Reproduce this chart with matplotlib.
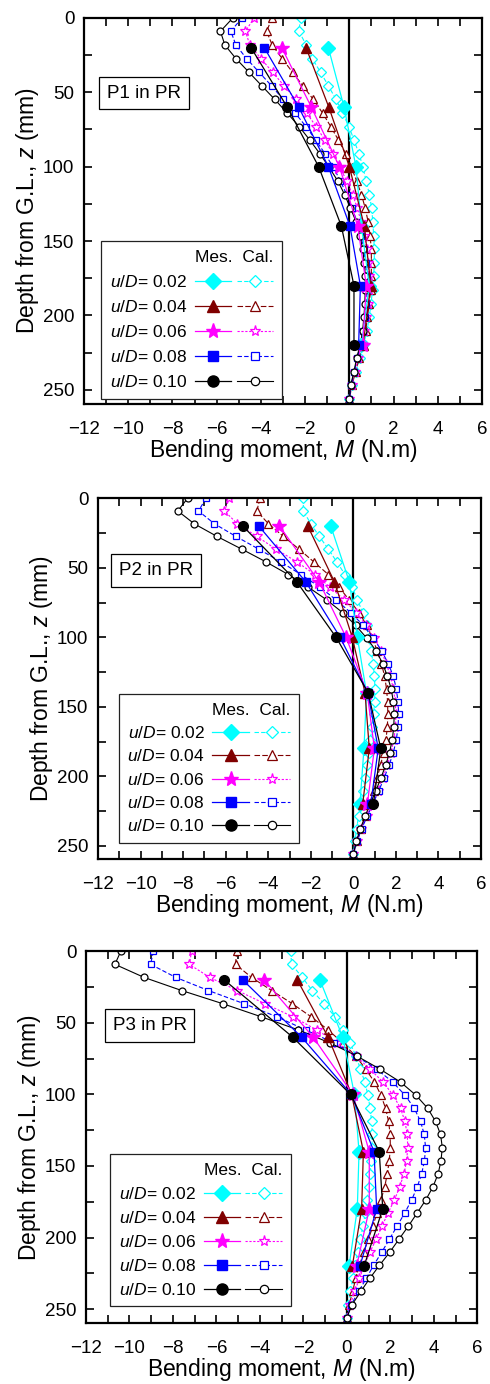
import matplotlib
matplotlib.use("Agg")
import matplotlib.pyplot as plt
from matplotlib.lines import Line2D
from matplotlib.legend_handler import HandlerTuple
from matplotlib.ticker import MultipleLocator

plt.rcParams['font.family'] = ['Liberation Sans', 'DejaVu Sans']
plt.rcParams['mathtext.fontset'] = 'custom'
plt.rcParams['mathtext.rm'] = 'Liberation Sans'
plt.rcParams['mathtext.it'] = 'Liberation Sans:italic'

# ---- data -------------------------------------------------------------
ratios = ['0.02', '0.04', '0.06', '0.08', '0.10']
pile_names = ['P1 in PR', 'P2 in PR', 'P3 in PR']

# gauge depths (measured) and node depths (calculated), mm
mes_depth = [20, 60, 100, 140, 180, 220]
cal_depth = [0, 9.1, 18.3, 27.4, 36.6, 45.7, 54.9, 64.0, 73.1, 82.3, 91.4,
             100.6, 109.7, 118.9, 128.0, 137.1, 146.3, 155.4, 164.6, 173.7,
             182.9, 192.0, 201.1, 210.3, 219.4, 228.6, 237.7, 246.9, 256.0]

# P1 - measured bending moment (N.m)
p1_mes_02 = [-0.95, -0.24, 0.30, 0.55, 0.90, 0.55]
p1_mes_04 = [-1.96, -0.93, 0.00, 0.68, 0.97, 0.62]
p1_mes_06 = [-3.06, -1.72, -0.45, 0.38, 0.77, 0.60]
p1_mes_08 = [-3.85, -2.29, -0.95, 0.03, 0.50, 0.42]
p1_mes_10 = [-4.45, -2.81, -1.39, -0.36, 0.21, 0.21]
# P1 - calculated
p1_cal_02 = [-2.20, -2.28, -1.95, -1.68, -1.30, -0.95, -0.60, -0.32, -0.01, 0.21,
             0.44, 0.62, 0.76, 0.91, 1.01, 1.06, 1.10, 1.13, 1.13, 1.10, 1.05,
             0.98, 0.90, 0.80, 0.65, 0.48, 0.30, 0.12, 0.00]
p1_cal_04 = [-3.49, -3.74, -3.49, -3.04, -2.57, -2.10, -1.63, -1.21, -0.84, -0.49,
             -0.16, 0.10, 0.33, 0.55, 0.72, 0.85, 0.94, 0.99, 1.00, 0.99, 0.96,
             0.90, 0.82, 0.74, 0.60, 0.45, 0.28, 0.12, 0.00]
p1_cal_06 = [-4.30, -4.70, -4.50, -4.00, -3.47, -2.95, -2.43, -1.93, -1.50, -1.10,
             -0.75, -0.42, -0.12, 0.15, 0.36, 0.54, 0.68, 0.78, 0.85, 0.88, 0.87,
             0.83, 0.77, 0.68, 0.56, 0.40, 0.25, 0.10, 0.00]
p1_cal_08 = [-4.85, -5.36, -5.13, -4.65, -4.08, -3.52, -2.99, -2.45, -1.96, -1.51,
             -1.10, -0.72, -0.40, -0.12, 0.13, 0.35, 0.52, 0.65, 0.74, 0.78, 0.78,
             0.75, 0.70, 0.62, 0.50, 0.36, 0.22, 0.08, 0.00]
p1_cal_10 = [-5.26, -5.83, -5.63, -5.13, -4.54, -3.96, -3.37, -2.81, -2.27, -1.78,
             -1.33, -0.91, -0.52, -0.21, 0.05, 0.31, 0.48, 0.60, 0.68, 0.72, 0.72,
             0.70, 0.66, 0.60, 0.50, 0.33, 0.21, 0.06, 0.00]

# P2 - measured
p2_mes_02 = [-1.06, -0.19, 0.19, 0.62, 0.50, 0.31]
p2_mes_04 = [-2.14, -0.89, -0.05, 0.55, 0.75, 0.44]
p2_mes_06 = [-3.47, -1.61, -0.34, 0.65, 0.99, 0.66]
p2_mes_08 = [-4.44, -2.24, -0.62, 0.68, 1.17, 0.82]
p2_mes_10 = [-5.19, -2.66, -0.81, 0.70, 1.29, 0.94]
# P2 - calculated
p2_cal_02 = [-2.35, -2.35, -2.00, -1.60, -1.17, -0.78, -0.39, -0.05, 0.19, 0.45,
             0.62, 0.74, 0.84, 0.93, 0.99, 1.02, 1.00, 0.95, 0.88, 0.80, 0.72,
             0.65, 0.56, 0.46, 0.35, 0.25, 0.15, 0.07, 0.00]
p2_cal_04 = [-4.38, -4.54, -3.99, -3.29, -2.55, -1.86, -1.17, -0.66, -0.20, 0.28,
             0.62, 0.90, 1.12, 1.32, 1.47, 1.56, 1.61, 1.62, 1.60, 1.53, 1.42,
             1.28, 1.12, 0.95, 0.77, 0.58, 0.38, 0.18, 0.00]
p2_cal_06 = [-5.82, -6.06, -5.45, -4.54, -3.63, -2.66, -1.80, -1.09, -0.42, 0.13,
             0.60, 0.98, 1.30, 1.55, 1.74, 1.88, 1.97, 2.00, 1.98, 1.90, 1.77,
             1.60, 1.38, 1.15, 0.90, 0.63, 0.37, 0.15, 0.00]
p2_cal_08 = [-6.92, -7.28, -6.53, -5.52, -4.44, -3.41, -2.46, -1.56, -0.81, -0.12,
             0.47, 0.94, 1.33, 1.64, 1.88, 2.02, 2.10, 2.13, 2.10, 2.02, 1.88,
             1.68, 1.45, 1.20, 0.93, 0.66, 0.39, 0.16, 0.00]
p2_cal_10 = [-7.79, -8.25, -7.48, -6.41, -5.24, -4.11, -3.05, -2.11, -1.25, -0.50,
             0.11, 0.63, 1.07, 1.38, 1.60, 1.78, 1.88, 1.92, 1.90, 1.83, 1.70,
             1.52, 1.30, 1.06, 0.80, 0.56, 0.33, 0.14, 0.00]

# P3 - measured
p3_mes_02 = [-1.24, -0.19, 0.35, 0.56, 0.48, 0.10]
p3_mes_04 = [-2.28, -0.86, 0.22, 0.76, 0.68, 0.25]
p3_mes_06 = [-3.80, -1.55, 0.28, 1.03, 1.03, 0.45]
p3_mes_08 = [-4.79, -2.08, 0.20, 1.25, 1.37, 0.60]
p3_mes_10 = [-5.64, -2.49, 0.17, 1.49, 1.65, 0.79]
# P3 - calculated
p3_cal_02 = [-2.59, -2.54, -2.05, -1.59, -1.05, -0.55, -0.16, 0.14, 0.42, 0.62,
             0.83, 0.97, 1.07, 1.14, 1.17, 1.15, 1.12, 1.07, 1.01, 0.93, 0.85,
             0.74, 0.62, 0.50, 0.38, 0.27, 0.16, 0.07, 0.00]
p3_cal_04 = [-5.07, -5.12, -4.38, -3.46, -2.51, -1.65, -0.86, -0.20, 0.40, 0.87,
             1.27, 1.57, 1.78, 1.92, 1.99, 2.00, 1.95, 1.86, 1.74, 1.57, 1.38,
             1.20, 0.99, 0.77, 0.58, 0.41, 0.26, 0.11, 0.00]
p3_cal_06 = [-7.14, -7.25, -6.30, -5.04, -3.77, -2.49, -1.39, -0.44, 0.42, 1.06,
             1.67, 2.13, 2.47, 2.67, 2.78, 2.80, 2.75, 2.63, 2.43, 2.19, 1.89,
             1.62, 1.35, 1.06, 0.80, 0.58, 0.36, 0.16, 0.00]
p3_cal_08 = [-8.90, -9.03, -7.86, -6.37, -4.73, -3.23, -1.90, -0.60, 0.42, 1.37,
             2.11, 2.68, 3.10, 3.39, 3.56, 3.62, 3.57, 3.44, 3.24, 2.98, 2.66,
             2.31, 1.96, 1.60, 1.23, 0.89, 0.54, 0.20, 0.00]
p3_cal_10 = [-10.40, -10.67, -9.32, -7.60, -5.71, -3.95, -2.24, -0.78, 0.45, 1.52,
             2.47, 3.18, 3.72, 4.08, 4.31, 4.39, 4.33, 4.20, 3.96, 3.63, 3.23,
             2.83, 2.40, 1.97, 1.50, 1.05, 0.64, 0.24, 0.00]

mes_sets = [[p1_mes_02, p1_mes_04, p1_mes_06, p1_mes_08, p1_mes_10],
            [p2_mes_02, p2_mes_04, p2_mes_06, p2_mes_08, p2_mes_10],
            [p3_mes_02, p3_mes_04, p3_mes_06, p3_mes_08, p3_mes_10]]
cal_sets = [[p1_cal_02, p1_cal_04, p1_cal_06, p1_cal_08, p1_cal_10],
            [p2_cal_02, p2_cal_04, p2_cal_06, p2_cal_08, p2_cal_10],
            [p3_cal_02, p3_cal_04, p3_cal_06, p3_cal_08, p3_cal_10]]

# ---- styles -----------------------------------------------------------
colors = ['#00FFFF', '#800000', '#FF00FF', '#0000FF', '#000000']
markers = ['D', '^', '*', 's', 'o']
mes_ms = [7.0, 7.5, 10.0, 6.0, 7.0]
cal_ms = [5.0, 6.0, 7.0, 4.8, 5.0]
cal_ls = [(0, (4, 2)), (0, (5, 2)), (0, (2, 1.5)), (0, (4, 2)), '-']

# ---- layout (pixel boxes: left, right, top, bottom) --------------------
W, H = 490, 1384
boxes = [(84, 482, 17.75, 404), (98, 481, 498.3, 859), (86, 477.3, 951.3, 1322.7)]
legend_anchor = [(0.03, 0.0), (0.04, 0.03), (0.048, 0.03)]
legend_spacing = [0.52, 0.42, 0.46]
name_pos = [(0.058, 0.805), (0.055, 0.80), (0.068, 0.80)]

fig = plt.figure(figsize=(W / 100, H / 100), dpi=100)

for k, (l, r, t, b) in enumerate(boxes):
    ax = fig.add_axes([l / W, 1 - b / H, (r - l) / W, (b - t) / H])
    ax.axvline(0, color='black', lw=1.6, zorder=1)

    for i in range(5):
        ax.plot(cal_sets[k][i], cal_depth, color=colors[i], ls=cal_ls[i], lw=0.8,
                marker=markers[i], ms=cal_ms[i], mfc='white', mec=colors[i],
                mew=0.9, zorder=2)
    for i in range(5):
        ax.plot(mes_sets[k][i], mes_depth, color=colors[i], ls='-', lw=0.9,
                marker=markers[i], ms=mes_ms[i], mfc=colors[i], mec=colors[i],
                zorder=3)

    ax.set_xlim(-12, 6)
    ax.set_ylim(259.5, 0)
    ax.xaxis.set_major_locator(MultipleLocator(2))
    ax.xaxis.set_minor_locator(MultipleLocator(1))
    ax.yaxis.set_major_locator(MultipleLocator(50))
    ax.yaxis.set_minor_locator(MultipleLocator(25))
    ax.tick_params(which='both', direction='in', top=True, right=True,
                   width=1.2, length=6, labelsize=13.5)
    ax.tick_params(axis='y', pad=7)
    ax.tick_params(axis='x', pad=12.5)
    for s in ax.spines.values():
        s.set_linewidth(1.6)

    ax.set_xlabel('Bending moment, $M$ (N.m)', fontsize=16.5, labelpad=-1)
    ax.set_ylabel('Depth from G.L., $z$ (mm)', fontsize=16.5, labelpad=1.5)

    ax.text(name_pos[k][0], name_pos[k][1], pile_names[k], transform=ax.transAxes,
            fontsize=13.5, va='center', ha='left',
            bbox=dict(boxstyle='square,pad=0.42', fc='white', ec='black', lw=0.9))

    handles = []
    for i in range(5):
        hm = Line2D([], [], color=colors[i], ls='-', lw=0.9, marker=markers[i],
                    ms=mes_ms[i] + 1, mfc=colors[i], mec=colors[i])
        hc = Line2D([], [], color=colors[i], ls=cal_ls[i], lw=0.8, marker=markers[i],
                    ms=cal_ms[i] + 1, mfc='white', mec=colors[i], mew=0.9)
        handles.append((hm, hc))
    labels = ['$u$/$D$= ' + r for r in ratios]
    leg = ax.legend(handles, labels,
                    handler_map={tuple: HandlerTuple(ndivide=None, pad=0.3)},
                    loc='lower left', bbox_to_anchor=legend_anchor[k],
                    markerfirst=False, title='Mes.  Cal.', alignment='right',
                    fontsize=12.5, title_fontsize=12.5, handlelength=4.5,
                    handletextpad=0.45, labelspacing=legend_spacing[k],
                    borderpad=0.5, borderaxespad=0.3, fancybox=False,
                    edgecolor='#222222', framealpha=1)
    leg.get_frame().set_linewidth(0.9)

fig.savefig('out.png', dpi=100)
